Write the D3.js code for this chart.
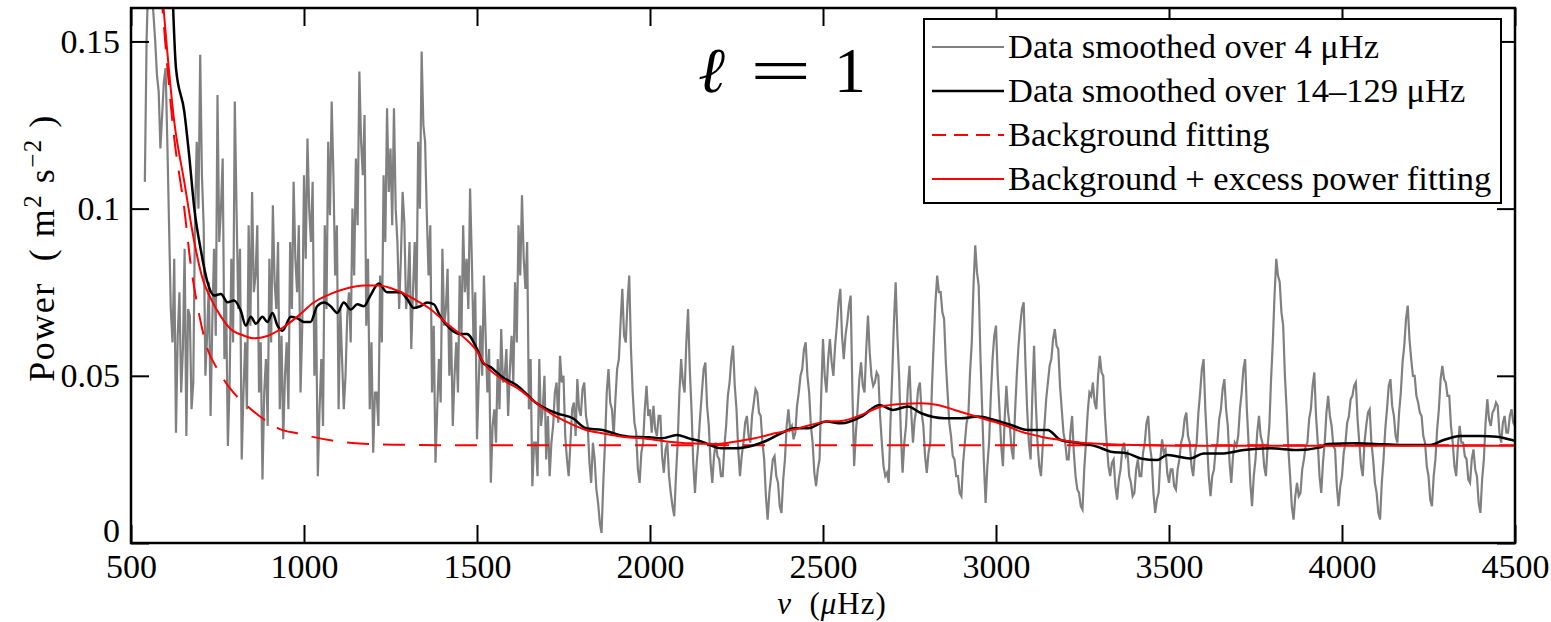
<!DOCTYPE html>
<html lang="en">
<head>
    <meta charset="UTF-8">
    <title>l = 1 power spectrum</title>
    <script src="https://d3js.org/d3.v7.min.js"></script>
    <style>
        body { margin: 0; background: #fff; }
        svg text { font-family: "Liberation Serif", "Times New Roman", serif; fill: #000; }
    </style>
</head>
<body>
    <div id="chart"></div>

    <script>
        // x ticks and y ticks
        var xTicks = [500, 1000, 1500, 2000, 2500, 3000, 3500, 4000, 4500];
        var yTicks = [0, 0.05, 0.1, 0.15];

        // power smoothed over 4 uHz, one value every 5 uHz from 540 to 4500
        var rawStart = 540, rawStep = 5;
        var rawPower = [
            0.108, 0.150, 0.170, 0.172, 0.165, 0.158, 0.150, 0.140, 0.135, 0.118, 0.128, 0.138,
            0.142, 0.120, 0.095, 0.070, 0.060, 0.085, 0.033, 0.062, 0.075, 0.045, 0.058, 0.088, 0.032, 0.070, 0.068, 0.040, 0.048, 0.098, 0.120, 0.100,
            0.146, 0.110, 0.095, 0.050, 0.062, 0.078, 0.038, 0.066, 0.088, 0.062, 0.134, 0.090, 0.100, 0.115, 0.055, 0.072, 0.029, 0.048, 0.085, 0.060,
            0.132, 0.100, 0.070, 0.088, 0.025, 0.045, 0.060, 0.040, 0.095, 0.065, 0.105, 0.075, 0.080, 0.095, 0.045, 0.060, 0.019, 0.045, 0.055, 0.035,
            0.085, 0.060, 0.101, 0.078, 0.070, 0.090, 0.040, 0.062, 0.031, 0.050, 0.060, 0.040, 0.090, 0.070, 0.108, 0.085, 0.075, 0.095, 0.045, 0.065,
            0.110, 0.085, 0.121, 0.100, 0.090, 0.108, 0.050, 0.070, 0.020, 0.040, 0.055, 0.035, 0.095, 0.070, 0.120, 0.098, 0.132, 0.110, 0.080, 0.095,
            0.040, 0.070, 0.055, 0.040, 0.050, 0.068, 0.075, 0.060, 0.100, 0.080, 0.115, 0.095, 0.141, 0.120, 0.110, 0.128, 0.065, 0.085, 0.040, 0.060,
            0.027, 0.045, 0.045, 0.035, 0.080, 0.060, 0.110, 0.090, 0.130, 0.105, 0.118, 0.095, 0.130, 0.100, 0.090, 0.070, 0.085, 0.105, 0.096, 0.070,
            0.075, 0.090, 0.058, 0.075, 0.090, 0.070, 0.120, 0.100, 0.147, 0.125, 0.120, 0.098, 0.080, 0.095, 0.045, 0.065, 0.024, 0.040, 0.055, 0.042,
            0.088, 0.065, 0.070, 0.082, 0.050, 0.065, 0.035, 0.050, 0.060, 0.045, 0.080, 0.062, 0.095, 0.075, 0.085, 0.070, 0.106, 0.085, 0.060, 0.075,
            0.031, 0.048, 0.065, 0.050, 0.080, 0.062, 0.045, 0.058, 0.018, 0.035, 0.040, 0.030, 0.055, 0.040, 0.064, 0.048, 0.050, 0.058, 0.038, 0.052,
            0.062, 0.048, 0.078, 0.060, 0.095, 0.080, 0.104, 0.085, 0.076, 0.090, 0.040, 0.055, 0.017, 0.030, 0.030, 0.020, 0.055, 0.035, 0.040, 0.050,
            0.025, 0.038, 0.020, 0.030, 0.035, 0.045, 0.048, 0.036, 0.056, 0.048, 0.050, 0.032, 0.025, 0.020, 0.030, 0.040, 0.042, 0.032, 0.049, 0.040,
            0.038, 0.046, 0.048, 0.038, 0.035, 0.024, 0.018, 0.030, 0.025, 0.016, 0.012, 0.006, 0.003, 0.018, 0.030, 0.045, 0.052, 0.042, 0.040, 0.032,
            0.043, 0.052, 0.055, 0.066, 0.076, 0.062, 0.060, 0.072, 0.080, 0.058, 0.045, 0.036, 0.033, 0.022, 0.018, 0.027, 0.030, 0.040, 0.047, 0.038,
            0.040, 0.033, 0.041, 0.034, 0.032, 0.038, 0.038, 0.026, 0.021, 0.028, 0.030, 0.020, 0.015, 0.011, 0.008, 0.020, 0.030, 0.045, 0.055, 0.048,
            0.045, 0.060, 0.070, 0.052, 0.040, 0.024, 0.015, 0.024, 0.030, 0.038, 0.045, 0.052, 0.054, 0.041, 0.035, 0.024, 0.018, 0.026, 0.030, 0.026,
            0.025, 0.020, 0.020, 0.029, 0.035, 0.044, 0.048, 0.055, 0.059, 0.047, 0.040, 0.028, 0.020, 0.026, 0.030, 0.036, 0.038, 0.032, 0.030, 0.038,
            0.042, 0.046, 0.045, 0.039, 0.038, 0.030, 0.025, 0.014, 0.007, 0.015, 0.020, 0.025, 0.026, 0.020, 0.018, 0.011, 0.009, 0.019, 0.025, 0.035,
            0.040, 0.034, 0.035, 0.031, 0.033, 0.041, 0.045, 0.050, 0.052, 0.058, 0.060, 0.050, 0.045, 0.035, 0.030, 0.021, 0.017, 0.022, 0.025, 0.045,
            0.061, 0.050, 0.045, 0.055, 0.061, 0.054, 0.050, 0.059, 0.065, 0.072, 0.076, 0.062, 0.055, 0.062, 0.066, 0.071, 0.074, 0.045, 0.023, 0.033,
            0.040, 0.049, 0.054, 0.047, 0.045, 0.058, 0.068, 0.057, 0.050, 0.047, 0.048, 0.051, 0.050, 0.038, 0.030, 0.023, 0.020, 0.021, 0.018, 0.036,
            0.050, 0.066, 0.078, 0.062, 0.050, 0.033, 0.021, 0.030, 0.035, 0.046, 0.053, 0.039, 0.030, 0.037, 0.040, 0.046, 0.048, 0.039, 0.035, 0.026,
            0.021, 0.027, 0.030, 0.047, 0.060, 0.072, 0.080, 0.075, 0.075, 0.069, 0.067, 0.054, 0.045, 0.036, 0.032, 0.026, 0.025, 0.020, 0.020, 0.015,
            0.014, 0.024, 0.030, 0.036, 0.038, 0.051, 0.060, 0.077, 0.089, 0.081, 0.077, 0.056, 0.040, 0.024, 0.012, 0.023, 0.030, 0.044, 0.055, 0.062,
            0.065, 0.050, 0.040, 0.029, 0.023, 0.037, 0.047, 0.039, 0.035, 0.028, 0.025, 0.039, 0.050, 0.059, 0.065, 0.070, 0.072, 0.054, 0.040, 0.030,
            0.025, 0.044, 0.059, 0.042, 0.030, 0.023, 0.020, 0.029, 0.035, 0.043, 0.048, 0.053, 0.055, 0.061, 0.064, 0.059, 0.058, 0.047, 0.040, 0.033,
            0.030, 0.025, 0.025, 0.033, 0.038, 0.027, 0.020, 0.016, 0.015, 0.011, 0.010, 0.022, 0.030, 0.039, 0.045, 0.044, 0.048, 0.042, 0.040, 0.050,
            0.056, 0.051, 0.050, 0.038, 0.030, 0.023, 0.020, 0.024, 0.025, 0.017, 0.013, 0.019, 0.022, 0.028, 0.030, 0.026, 0.027, 0.020, 0.018, 0.014,
            0.015, 0.022, 0.025, 0.020, 0.020, 0.027, 0.030, 0.036, 0.038, 0.029, 0.025, 0.015, 0.009, 0.013, 0.015, 0.025, 0.031, 0.027, 0.028, 0.021,
            0.018, 0.022, 0.022, 0.017, 0.016, 0.022, 0.025, 0.030, 0.032, 0.037, 0.039, 0.032, 0.030, 0.023, 0.020, 0.027, 0.030, 0.039, 0.045, 0.052,
            0.055, 0.040, 0.030, 0.020, 0.014, 0.020, 0.022, 0.028, 0.030, 0.037, 0.040, 0.046, 0.049, 0.040, 0.035, 0.024, 0.018, 0.026, 0.030, 0.029,
            0.032, 0.040, 0.045, 0.052, 0.055, 0.040, 0.030, 0.018, 0.011, 0.020, 0.025, 0.033, 0.038, 0.032, 0.030, 0.023, 0.020, 0.029, 0.035, 0.049,
            0.060, 0.074, 0.085, 0.080, 0.078, 0.069, 0.065, 0.050, 0.040, 0.028, 0.020, 0.011, 0.007, 0.014, 0.018, 0.014, 0.015, 0.022, 0.025, 0.029,
            0.030, 0.037, 0.040, 0.047, 0.051, 0.038, 0.030, 0.020, 0.015, 0.024, 0.030, 0.039, 0.044, 0.038, 0.035, 0.029, 0.028, 0.017, 0.011, 0.017,
            0.020, 0.027, 0.030, 0.036, 0.038, 0.043, 0.044, 0.047, 0.048, 0.037, 0.030, 0.023, 0.020, 0.030, 0.035, 0.039, 0.040, 0.030, 0.025, 0.018,
            0.015, 0.009, 0.007, 0.018, 0.025, 0.034, 0.040, 0.047, 0.049, 0.041, 0.038, 0.032, 0.030, 0.039, 0.045, 0.054, 0.059, 0.067, 0.071, 0.061,
            0.055, 0.050, 0.050, 0.044, 0.042, 0.039, 0.038, 0.032, 0.030, 0.023, 0.020, 0.013, 0.011, 0.020, 0.025, 0.034, 0.040, 0.049, 0.053, 0.049,
            0.048, 0.044, 0.044, 0.035, 0.030, 0.023, 0.020, 0.029, 0.035, 0.030, 0.030, 0.026, 0.025, 0.019, 0.018, 0.025, 0.028, 0.022, 0.020, 0.012,
            0.009, 0.019, 0.025, 0.036, 0.043, 0.037, 0.035, 0.039, 0.040, 0.042, 0.041, 0.033, 0.030, 0.036, 0.038, 0.033, 0.033, 0.038, 0.040, 0.036,
            0.035
        ];

        // power smoothed over 14-129 uHz
        var smoothFreq = [620, 630, 654, 668, 683, 702, 721, 740, 760, 779, 798, 817, 832, 846, 861, 880, 894, 909, 923, 938,
            962, 981, 1000, 1019, 1038, 1058, 1077, 1096, 1115, 1135, 1154, 1173, 1192, 1216, 1240, 1259, 1279, 1298, 1317, 1336,
            1356, 1375, 1394, 1423, 1452, 1471, 1500, 1519, 1538, 1572, 1615, 1672, 1730, 1777, 1815, 1863, 1911, 1940, 1997, 2035,
            2078, 2112, 2150, 2207, 2245, 2303, 2341, 2379, 2418, 2456, 2509, 2553, 2611, 2663, 2702, 2745, 2784, 2851, 2899, 2947,
            2995, 3043, 3091, 3149, 3187, 3245, 3293, 3332, 3380, 3418, 3466, 3495, 3529, 3562, 3600, 3658, 3716, 3793, 3870, 3938,
            3957, 4043, 4120, 4178, 4255, 4294, 4342, 4400, 4448, 4491, 4500];
        var smoothPower = [0.165, 0.142, 0.129, 0.116, 0.100, 0.0875, 0.078, 0.074, 0.0745, 0.072, 0.0725, 0.0695, 0.065, 0.0677, 0.0656, 0.0677, 0.0661, 0.0688, 0.0651, 0.0635,
            0.0677, 0.0672, 0.0661, 0.0661, 0.0708, 0.0719, 0.0708, 0.0688, 0.0719, 0.0698, 0.0714, 0.0708, 0.074, 0.0776, 0.075, 0.075, 0.075, 0.073, 0.0703, 0.0708,
            0.0719, 0.0714, 0.0677, 0.064, 0.0625, 0.0625, 0.058, 0.0537, 0.0527, 0.0497, 0.0472, 0.0418, 0.0388, 0.0373, 0.0343, 0.0338, 0.0323, 0.0318, 0.0316, 0.0313,
            0.0323, 0.0313, 0.0303, 0.0283, 0.0283, 0.0293, 0.0308, 0.0328, 0.0343, 0.0343, 0.0363, 0.0358, 0.0378, 0.0413, 0.0398, 0.0408, 0.0388, 0.0373, 0.0373, 0.0378,
            0.0368, 0.0353, 0.0338, 0.0338, 0.0308, 0.0298, 0.0288, 0.0273, 0.0268, 0.0253, 0.0248, 0.0263, 0.0258, 0.0253, 0.0268, 0.0268, 0.0278, 0.0283, 0.0278, 0.0286,
            0.0296, 0.0298, 0.0295, 0.0293, 0.0293, 0.0308, 0.032, 0.032, 0.0318, 0.0308, 0.0306];

        // background + excess power fit
        var fitFreq = [590, 625, 654, 683, 707, 731, 760, 788, 827, 856, 894, 933, 981, 1029, 1077, 1125, 1173, 1216, 1269, 1317,
            1365, 1413, 1462, 1500, 1519, 1577, 1624, 1672, 1720, 1768, 1815, 1863, 1920, 1978, 2054, 2112, 2188, 2245, 2303, 2360,
            2418, 2509, 2553, 2611, 2668, 2726, 2784, 2832, 2880, 2928, 2976, 3024, 3072, 3130, 3187, 3245, 3312, 3408, 3528, 4500];
        var fitPower = [0.165, 0.126, 0.108, 0.090, 0.079, 0.073, 0.0677, 0.064, 0.062, 0.0612, 0.0619, 0.064, 0.0677, 0.072, 0.0745, 0.0762, 0.077, 0.077, 0.0755, 0.073,
            0.070, 0.0656, 0.0615, 0.0573, 0.054, 0.0487, 0.0458, 0.0418, 0.0383, 0.0358, 0.0338, 0.0328, 0.0318, 0.0313, 0.0303, 0.0298, 0.0296, 0.0303, 0.0313, 0.0328,
            0.034, 0.0363, 0.0365, 0.0383, 0.0408, 0.0416, 0.0418, 0.0413, 0.0398, 0.0383, 0.0368, 0.0353, 0.0333, 0.0318, 0.0308, 0.030, 0.0296, 0.0293, 0.0291, 0.0291];

        // background fit
        var bgFreq = [587, 625, 654, 673, 692, 721, 750, 788, 836, 884, 932, 980, 1077, 1173, 1269, 1500, 4500];
        var bgPower = [0.165, 0.121, 0.100, 0.083, 0.071, 0.058, 0.052, 0.046, 0.041, 0.037, 0.034, 0.0328, 0.0307, 0.0297, 0.0294, 0.0292, 0.0292];

        var legendLabels = ["Data smoothed over 4 \u03bcHz", "Data smoothed over 14\u2013129 \u03bcHz", "Background fitting", "Background + excess power fitting"];

        var width = 1551, height = 622;
        var plotLeft = 131, plotRight = 1515, plotTop = 8, plotBottom = 543;

        var svg = d3.select("#chart").append("svg")
            .attr("width", width)
            .attr("height", height);

        var x = d3.scaleLinear().domain([500, 4500]).range([plotLeft, plotRight]);
        var y = d3.scaleLinear().domain([0, 0.16]).range([plotBottom, plotTop]);

        svg.append("clipPath").attr("id", "plotclip")
            .append("rect")
            .attr("x", plotLeft).attr("y", plotTop)
            .attr("width", plotRight - plotLeft).attr("height", plotBottom - plotTop);

        var plot = svg.append("g").attr("clip-path", "url(#plotclip)");

        function pairs(fx, fy) {
            return fx.map(function(f, i) { return [f, fy[i]]; });
        }
        var rawData = rawPower.map(function(v, i) { return [rawStart + i * rawStep, v]; });

        var line = d3.line()
            .x(function(d) { return x(d[0]); })
            .y(function(d) { return y(d[1]); });
        var smoothLine = d3.line()
            .curve(d3.curveMonotoneX)
            .x(function(d) { return x(d[0]); })
            .y(function(d) { return y(d[1]); });

        plot.append("path")
            .datum(rawData)
            .attr("d", line)
            .attr("fill", "none")
            .attr("stroke", "#808080")
            .attr("stroke-width", 2.2);

        plot.append("path")
            .datum(pairs(bgFreq, bgPower))
            .attr("d", smoothLine)
            .attr("fill", "none")
            .attr("stroke", "#ff0000")
            .attr("stroke-width", 2)
            .attr("stroke-dasharray", "22,14");

        plot.append("path")
            .datum(pairs(smoothFreq, smoothPower))
            .attr("d", smoothLine)
            .attr("fill", "none")
            .attr("stroke", "#000")
            .attr("stroke-width", 2.5);

        plot.append("path")
            .datum(pairs(fitFreq, fitPower))
            .attr("d", smoothLine)
            .attr("fill", "none")
            .attr("stroke", "#ff0000")
            .attr("stroke-width", 2);

        // axes, ticks pointing inward on all four sides
        var xAxis = svg.append("g")
            .attr("transform", "translate(0," + plotBottom + ")")
            .call(d3.axisBottom(x).tickValues(xTicks).tickFormat(d3.format("d"))
                .tickSizeInner(-18).tickSizeOuter(0).tickPadding(11));
        var yAxis = svg.append("g")
            .attr("transform", "translate(" + plotLeft + ",0)")
            .call(d3.axisLeft(y).tickValues(yTicks).tickFormat(function(d) { return d === 0 ? "0" : String(d); })
                .tickSizeInner(-18).tickSizeOuter(0).tickPadding(11));
        svg.append("g")
            .attr("transform", "translate(0," + plotTop + ")")
            .call(d3.axisTop(x).tickValues(xTicks).tickFormat("").tickSizeInner(-18).tickSizeOuter(0));
        svg.append("g")
            .attr("transform", "translate(" + plotRight + ",0)")
            .call(d3.axisRight(y).tickValues(yTicks).tickFormat("").tickSizeInner(-18).tickSizeOuter(0));

        svg.selectAll(".domain").remove();
        svg.selectAll(".tick line").attr("stroke", "#000").attr("stroke-width", 2);
        xAxis.selectAll("text").attr("font-size", 34).attr("font-family", "Liberation Serif");
        yAxis.selectAll("text").attr("font-size", 34).attr("font-family", "Liberation Serif")
            .attr("dy", function(d) { return d === 0 ? "-0.03em" : "0.32em"; });

        svg.append("rect")
            .attr("x", plotLeft).attr("y", plotTop)
            .attr("width", plotRight - plotLeft).attr("height", plotBottom - plotTop)
            .attr("fill", "none")
            .attr("stroke", "#000")
            .attr("stroke-width", 2.5);

        // axis titles
        var yTitle = svg.append("text")
            .attr("transform", "translate(54,248) rotate(-90)")
            .attr("text-anchor", "middle")
            .attr("font-size", 36)
            .attr("letter-spacing", 1.5)
            .attr("xml:space", "preserve");
        yTitle.append("tspan").text("Power  ( m");
        yTitle.append("tspan").attr("baseline-shift", "super").attr("font-size", 25).text("2");
        yTitle.append("tspan").text(" s");
        yTitle.append("tspan").attr("baseline-shift", "super").attr("font-size", 25).text("\u22122");
        yTitle.append("tspan").text(" )");

        var xTitle = svg.append("text")
            .attr("x", 832).attr("y", 614)
            .attr("text-anchor", "middle")
            .attr("font-size", 31)
            .attr("letter-spacing", 1)
            .attr("xml:space", "preserve");
        xTitle.append("tspan").attr("font-style", "italic").text("\u03bd");
        xTitle.append("tspan").text("  (");
        xTitle.append("tspan").attr("font-style", "italic").text("\u03bc");
        xTitle.append("tspan").text("Hz)");

        // degree label
        svg.append("text").attr("x", 698).attr("y", 92).attr("font-size", 64)
            .attr("font-style", "italic").text("\u2113");
        svg.append("text").attr("x", 750).attr("y", 92).attr("font-size", 64)
            .attr("transform", "translate(750,0) scale(1.7,1) translate(-750,0)").text("=");
        svg.append("text").attr("x", 834).attr("y", 92).attr("font-size", 64).text("1");

        // legend
        var legend = svg.append("g");
        legend.append("rect")
            .attr("x", 924).attr("y", 19)
            .attr("width", 577).attr("height", 184)
            .attr("fill", "#fff")
            .attr("stroke", "#000")
            .attr("stroke-width", 2);

        var legendStyles = [
            { color: "#808080", dash: null, w: 2 },
            { color: "#000", dash: null, w: 2.5 },
            { color: "#ff0000", dash: "14,8", w: 2 },
            { color: "#ff0000", dash: null, w: 2 }
        ];
        legendLabels.forEach(function(label, i) {
            var yy = 47 + i * 44;
            legend.append("line")
                .attr("x1", 932).attr("x2", 1004)
                .attr("y1", yy).attr("y2", yy)
                .attr("stroke", legendStyles[i].color)
                .attr("stroke-width", legendStyles[i].w)
                .attr("stroke-dasharray", legendStyles[i].dash);
            legend.append("text")
                .attr("x", 1008).attr("y", yy + 11)
                .attr("font-size", 34.5)
                .text(label);
        });
    </script>
</body>
</html>
